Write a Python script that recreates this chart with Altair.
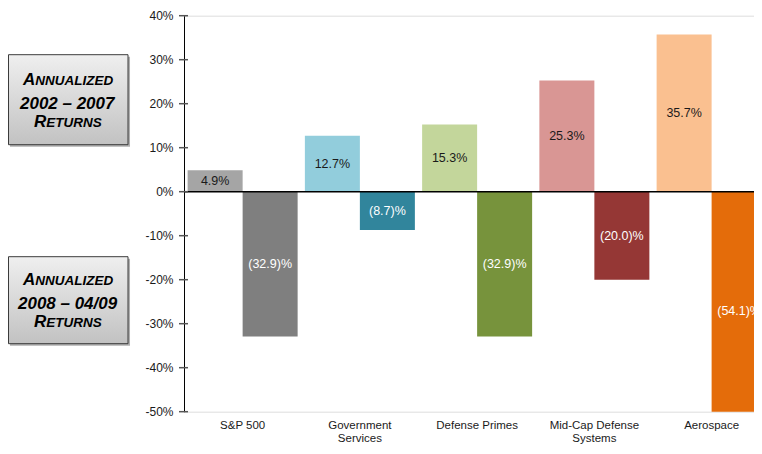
import altair as alt
import pandas as pd

# ---- data ----
categories = ["S&P 500", "Government Services", "Defense Primes", "Mid-Cap Defense Systems", "Aerospace"]
axis_labels = ["S&P 500", "Government|Services", "Defense Primes", "Mid-Cap Defense|Systems", "Aerospace"]
periods = ["2002-2007", "2008-04/09"]
returns_2002_2007 = [4.9, 12.7, 15.3, 25.3, 35.7]
returns_2008_2009 = [-32.9, -8.7, -32.9, -20.0, -54.1]
light_colors = ["#a5a5a5", "#92cddc", "#c3d69b", "#d99694", "#fac090"]
dark_colors = ["#7f7f7f", "#31859c", "#77933c", "#953735", "#e46c0a"]
y_ticks = [-50, -40, -30, -20, -10, 0, 10, 20, 30, 40]


def fmt(v):
    return f"{v:.1f}%" if v >= 0 else f"({abs(v):.1f})%"


rows = []
for i, c in enumerate(categories):
    for p, vals in ((periods[0], returns_2002_2007), (periods[1], returns_2008_2009)):
        v = vals[i]
        rows.append({
            "category": c,
            "period": p,
            "value": v,
            "label": fmt(v),
            "key": f"{c}|{p}",
            "txtcolor": "#1a1a1a" if p == periods[0] else "#ffffff",
        })
df = pd.DataFrame(rows)
color_domain = [f"{c}|{p}" for c in categories for p in periods]
color_range = []
for i in range(len(categories)):
    color_range += [light_colors[i], dark_colors[i]]

FONT = "Liberation Sans"
label_map = " : ".join(
    f"datum.label == '{c}' ? split('{l}', '|')" for c, l in zip(categories, axis_labels)
) + " : datum.label"

x_enc = alt.X(
    "category:N",
    sort=categories,
    scale=alt.Scale(domain=categories, range=[0, 586.25], paddingInner=0.0618, paddingOuter=0.0309),
    axis=alt.Axis(
        title=None, domain=False, ticks=False, labelAngle=0, labelFontSize=11.5,
        labelFont=FONT, labelColor="#1a1a1a", labelPadding=8, labelLineHeight=12.5,
        labelExpr=label_map, labelLimit=200,
    ),
)
xoff = alt.XOffset("period:N", sort=periods,
                   scale=alt.Scale(domain=periods, paddingInner=0, paddingOuter=0))
y_scale = alt.Scale(domain=[-50, 40], nice=False)

base = alt.Chart(df)

bars = base.mark_bar(clip=True).encode(
    x=x_enc,
    xOffset=xoff,
    y=alt.Y(
        "value:Q", scale=y_scale,
        axis=alt.Axis(
            title=None, values=y_ticks, format=".0f", labelExpr="datum.value + '%'",
            grid=False, ticks=False, domainColor="#000000", domainWidth=1,
            labelFont=FONT, labelFontSize=12, labelColor="#1a1a1a", labelPadding=11,
        ),
    ),
    color=alt.Color("key:N", scale=alt.Scale(domain=color_domain, range=color_range), legend=None),
)

texts = base.mark_text(clip=True, font=FONT, fontSize=12.5, baseline="middle").transform_calculate(
    mid="datum.value / 2"
).encode(
    x=x_enc,
    xOffset=xoff,
    y=alt.Y("mid:Q", scale=y_scale),
    text="label:N",
    color=alt.Color("txtcolor:N", scale=None),
)

zero = alt.Chart(pd.DataFrame({"z": [0]})).mark_rule(color="#000000", strokeWidth=1.5).encode(
    y=alt.Y("z:Q", scale=y_scale)
)

ticks = alt.Chart(pd.DataFrame({"t": y_ticks})).mark_rule(color="#555555", strokeWidth=1.5).encode(
    y=alt.Y("t:Q", scale=y_scale), x=alt.value(-5), x2=alt.value(4)
)

grad = alt.LinearGradient(
    gradient="linear",
    stops=[alt.GradientStop(color="#efefef", offset=0), alt.GradientStop(color="#c2c2c2", offset=1)],
    x1=0, x2=0, y1=0, y2=1,
)

one = pd.DataFrame({"a": [0]})


def box(y0, y1, lines):
    layers = []
    layers.append(alt.Chart(one).mark_rect(color="#7a7a7a", opacity=0.6).encode(
        x=alt.value(-174), x2=alt.value(-54), y=alt.value(y0 + 2), y2=alt.value(y1 + 2)))
    layers.append(alt.Chart(one).mark_rect(color=grad, stroke="#3a3a3a", strokeWidth=1).encode(
        x=alt.value(-175.5), x2=alt.value(-56), y=alt.value(y0), y2=alt.value(y1)))
    for txt, xx, yy, fs in lines:
        layers.append(alt.Chart(one).mark_text(
            font=FONT, fontWeight="bold", fontStyle="italic", fontSize=fs,
            align="left", baseline="alphabetic", color="#000000", text=txt,
        ).encode(x=alt.value(xx), y=alt.value(yy)))
    return layers


box1 = box(39, 129, [
    ("A", -161, 69.5, 17), ("NNUALIZED", -148.7, 69.5, 13.5),
    ("2002 – 2007", -164, 93, 17),
    ("R", -150, 111, 17), ("ETURNS", -137.7, 111, 13.5),
])
box2 = box(241, 328, [
    ("A", -161, 269.5, 17), ("NNUALIZED", -148.7, 269.5, 13.5),
    ("2008 – 04/09", -166, 293, 17),
    ("R", -150, 311, 17), ("ETURNS", -137.7, 311, 13.5),
])

chart = alt.layer(bars, texts, zero, ticks, *box1, *box2).properties(
    width=570, height=396,
    autosize=alt.AutoSizeParams(type="none"),
    padding={"left": 176, "top": 7.7, "right": 0, "bottom": 33.5},
).configure_view(stroke=None).configure(background="#ffffff")

chart.save("out.html", embed_options={"renderer": "svg", "actions": False})
